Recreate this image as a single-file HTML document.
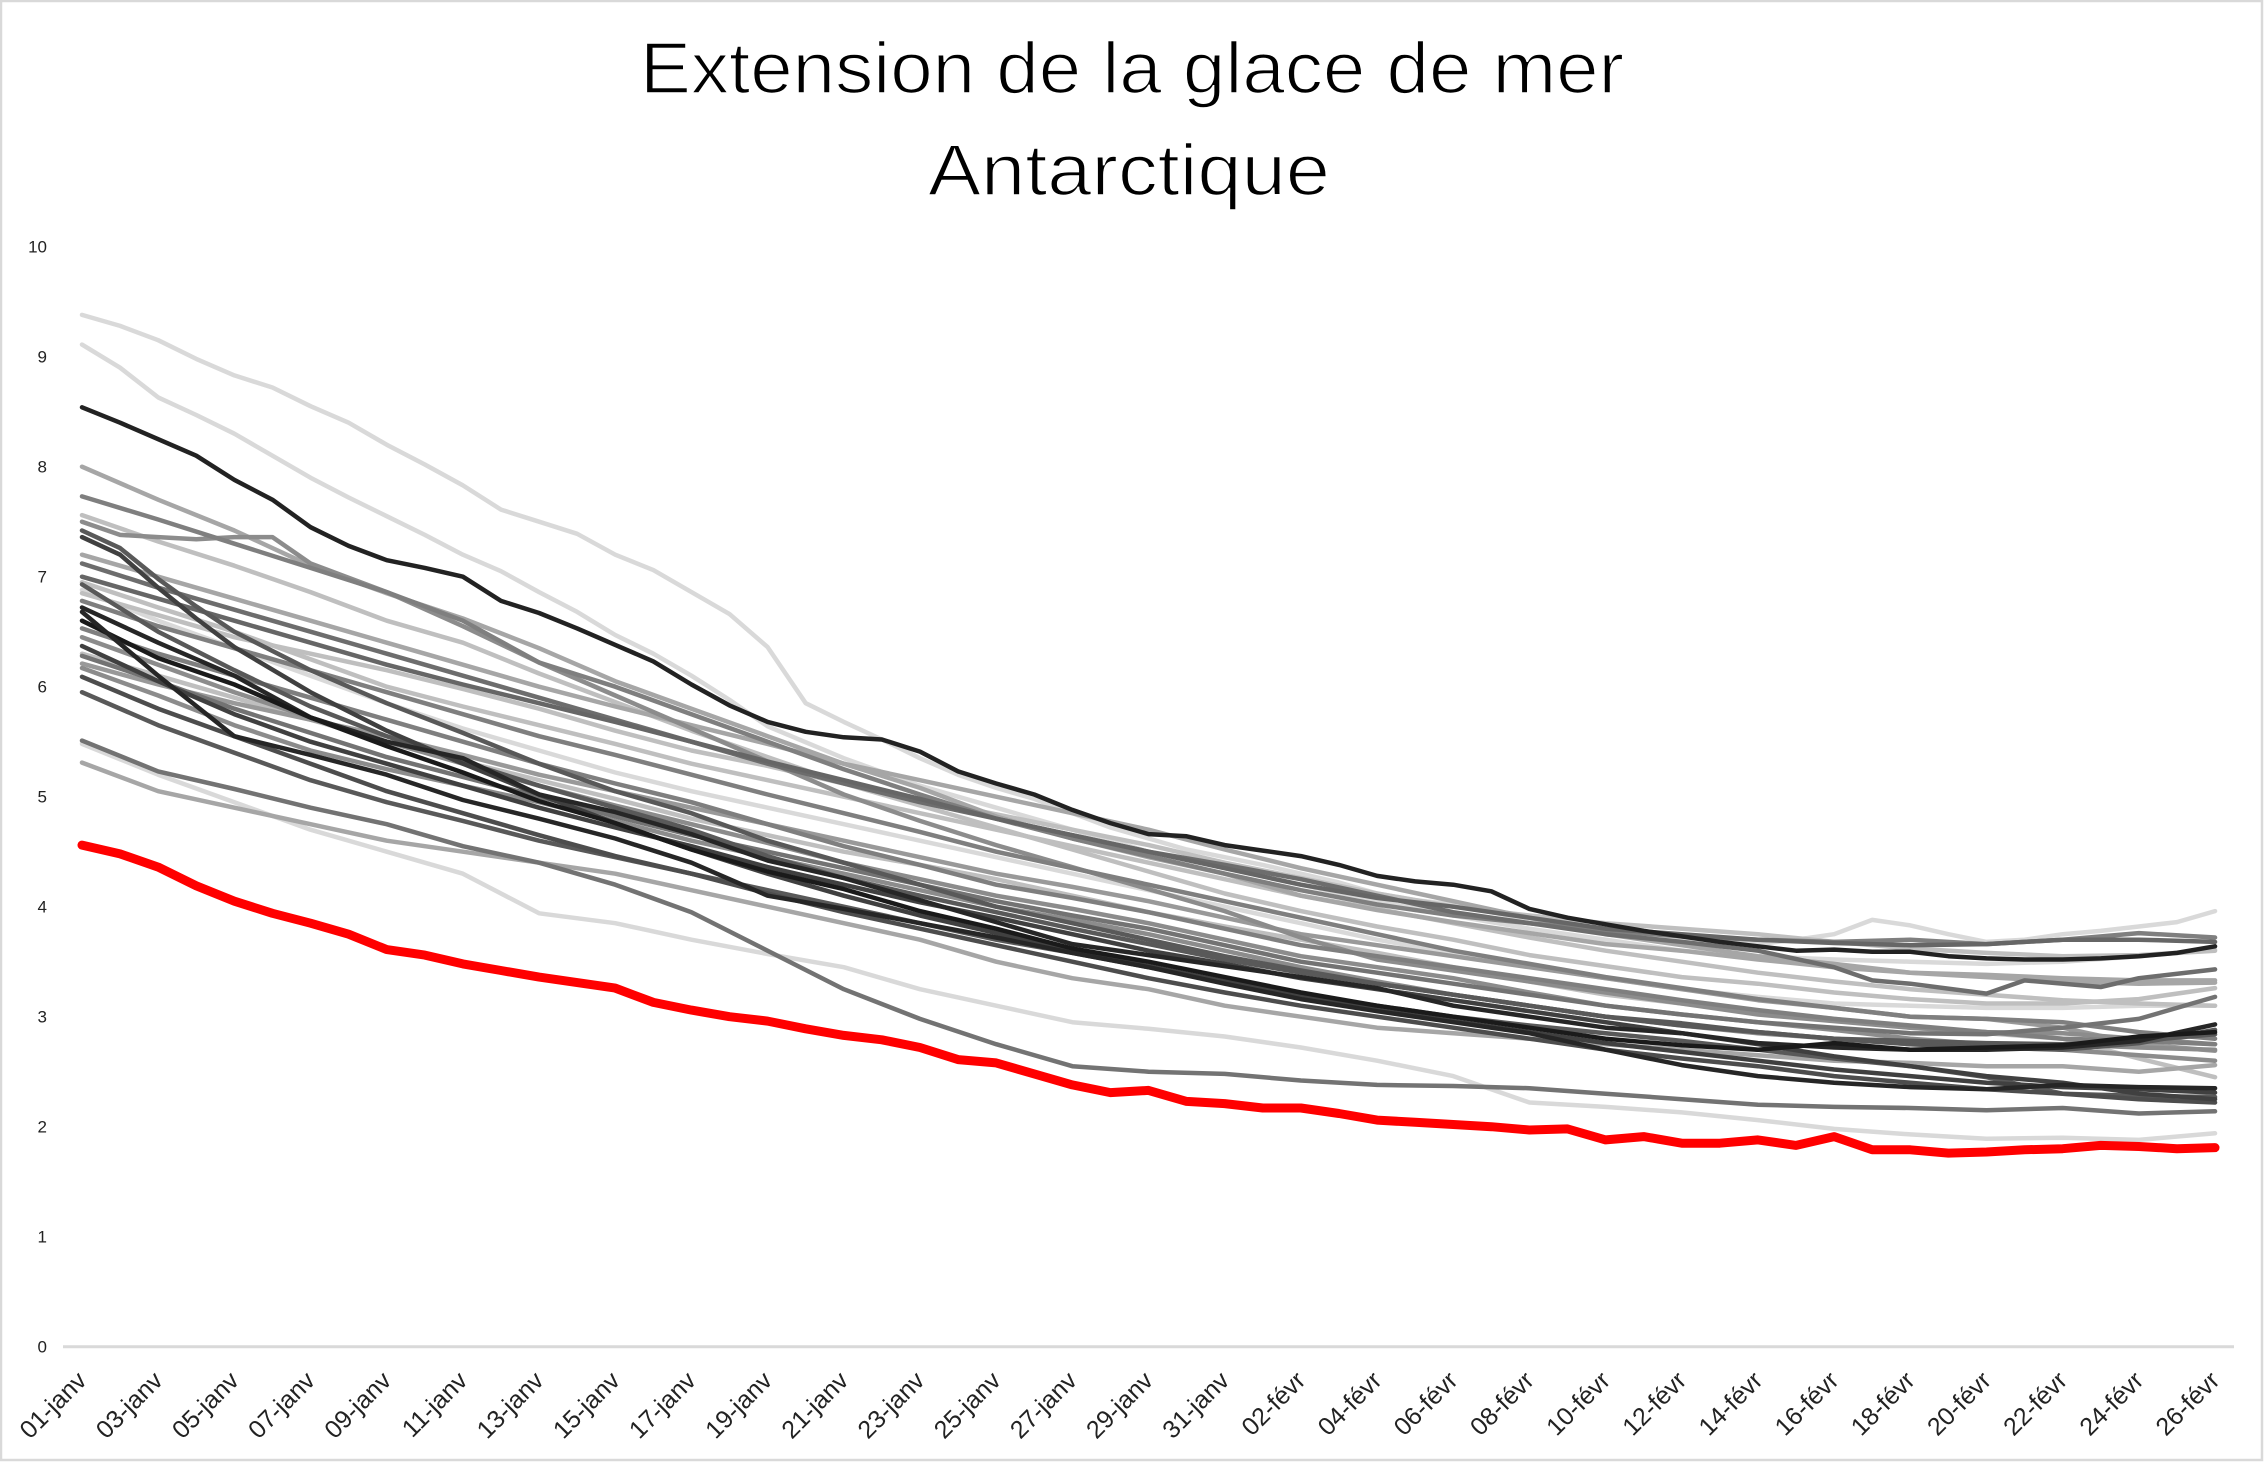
<!DOCTYPE html>
<html>
<head>
<meta charset="utf-8">
<style>
  html,body{margin:0;padding:0;background:#fff;}
  svg{display:block;}
  text{font-family:"Liberation Sans", Arial, sans-serif;}
</style>
</head>
<body>
<svg width="2264" height="1462" viewBox="0 0 2264 1462" xmlns="http://www.w3.org/2000/svg">
  <rect x="0" y="0" width="2264" height="1462" fill="#ffffff"/>
  <rect x="1" y="1" width="2261" height="1459" fill="none" stroke="#d9d9d9" stroke-width="2.5"/>

  <!-- Title -->
  <g stroke="#ffffff" stroke-width="1.6">
  <text x="1132" y="93" font-size="72" text-anchor="middle" fill="#000" textLength="984" lengthAdjust="spacingAndGlyphs">Extension de la glace de mer</text>
  <text x="1129" y="195" font-size="72" text-anchor="middle" fill="#000" textLength="402" lengthAdjust="spacingAndGlyphs">Antarctique</text>
  </g>

  <!-- Y axis labels -->
  <g font-size="17" fill="#222" text-anchor="end">
    <text x="47" y="252.7">10</text>
    <text x="47" y="362.7">9</text>
    <text x="47" y="472.7">8</text>
    <text x="47" y="582.7">7</text>
    <text x="47" y="692.7">6</text>
    <text x="47" y="802.7">5</text>
    <text x="47" y="912.7">4</text>
    <text x="47" y="1022.7">3</text>
    <text x="47" y="1132.7">2</text>
    <text x="47" y="1242.7">1</text>
    <text x="47" y="1352.7">0</text>
  </g>

  <!-- X axis line -->
  <line x1="63" y1="1346.7" x2="2234" y2="1346.7" stroke="#d9d9d9" stroke-width="3"/>

  <!-- X labels -->
  <g font-size="25" fill="#222" text-anchor="end">
    <text x="88" y="1382" transform="rotate(-45 88 1382)">01-janv</text>
    <text x="164.2" y="1382" transform="rotate(-45 164.2 1382)">03-janv</text>
    <text x="240.4" y="1382" transform="rotate(-45 240.4 1382)">05-janv</text>
    <text x="316.5" y="1382" transform="rotate(-45 316.5 1382)">07-janv</text>
    <text x="392.7" y="1382" transform="rotate(-45 392.7 1382)">09-janv</text>
    <text x="468.9" y="1382" transform="rotate(-45 468.9 1382)">11-janv</text>
    <text x="545.1" y="1382" transform="rotate(-45 545.1 1382)">13-janv</text>
    <text x="621.3" y="1382" transform="rotate(-45 621.3 1382)">15-janv</text>
    <text x="697.4" y="1382" transform="rotate(-45 697.4 1382)">17-janv</text>
    <text x="773.6" y="1382" transform="rotate(-45 773.6 1382)">19-janv</text>
    <text x="849.8" y="1382" transform="rotate(-45 849.8 1382)">21-janv</text>
    <text x="926" y="1382" transform="rotate(-45 926 1382)">23-janv</text>
    <text x="1002.2" y="1382" transform="rotate(-45 1002.2 1382)">25-janv</text>
    <text x="1078.3" y="1382" transform="rotate(-45 1078.3 1382)">27-janv</text>
    <text x="1154.5" y="1382" transform="rotate(-45 1154.5 1382)">29-janv</text>
    <text x="1230.7" y="1382" transform="rotate(-45 1230.7 1382)">31-janv</text>
    <text x="1306.9" y="1382" transform="rotate(-45 1306.9 1382)">02-févr</text>
    <text x="1383.1" y="1382" transform="rotate(-45 1383.1 1382)">04-févr</text>
    <text x="1459.2" y="1382" transform="rotate(-45 1459.2 1382)">06-févr</text>
    <text x="1535.4" y="1382" transform="rotate(-45 1535.4 1382)">08-févr</text>
    <text x="1611.6" y="1382" transform="rotate(-45 1611.6 1382)">10-févr</text>
    <text x="1687.8" y="1382" transform="rotate(-45 1687.8 1382)">12-févr</text>
    <text x="1764" y="1382" transform="rotate(-45 1764 1382)">14-févr</text>
    <text x="1840.1" y="1382" transform="rotate(-45 1840.1 1382)">16-févr</text>
    <text x="1916.3" y="1382" transform="rotate(-45 1916.3 1382)">18-févr</text>
    <text x="1992.5" y="1382" transform="rotate(-45 1992.5 1382)">20-févr</text>
    <text x="2068.7" y="1382" transform="rotate(-45 2068.7 1382)">22-févr</text>
    <text x="2144.9" y="1382" transform="rotate(-45 2144.9 1382)">24-févr</text>
    <text x="2221" y="1382" transform="rotate(-45 2221 1382)">26-févr</text>
  </g>

  <!-- Data series -->
  <g transform="translate(82 1346.7) scale(38.09 -110)" fill="none" stroke-linejoin="round" stroke-linecap="round">
    <!-- light lines -->
    <polyline vector-effect="non-scaling-stroke" stroke="#d9d9d9" stroke-width="4.5" points="0,9.38 1,9.28 2,9.15 3,8.98 4,8.83 5,8.72 6,8.55 7,8.4 8,8.2 9,8.02 10,7.83 11,7.61 12,7.5 13,7.39 14,7.2 15,7.06 16,6.86 17,6.66 18,6.36 19,5.85 20,5.68 21,5.52 22,5.35 23,5.2 24,5.08 25,4.98 26,4.85 27,4.72 28,4.62 29,4.52 30,4.45 31,4.38 32,4.3 33,4.22 34,4.12 35,4.06 36,4.02 37,3.95 38,3.88 39,3.82 40,3.76 41,3.72 42,3.7 43,3.68 44,3.66 45,3.7 46,3.75 47,3.88 48,3.83 49,3.75 50,3.68 51,3.7 52,3.75 53,3.78 54,3.82 55,3.86 56,3.96"/>
    <polyline vector-effect="non-scaling-stroke" stroke="#d9d9d9" stroke-width="4.5" points="0,9.11 1,8.9 2,8.63 3,8.47 4,8.3 5,8.1 6,7.9 7,7.72 8,7.55 9,7.38 10,7.2 11,7.05 12,6.86 13,6.68 14,6.47 15,6.3 16,6.1 17,5.88 18,5.64 20,5.35 22,5.1 24,4.9 26,4.7 28,4.5 30,4.35 32,4.2 34,4.05 36,3.92 38,3.8 40,3.7 42,3.6 44,3.55 46,3.52 48,3.5 50,3.48 52,3.5 54,3.55 56,3.61"/>
    <polyline vector-effect="non-scaling-stroke" stroke="#d9d9d9" stroke-width="4.5" points="0,6.88 2,6.6 4,6.35 6,6.1 8,5.85 10,5.62 12,5.42 14,5.22 16,5.05 18,4.9 20,4.75 22,4.6 24,4.45 26,4.3 28,4.15 30,4.0 32,3.85 34,3.7 36,3.58 38,3.46 40,3.35 42,3.25 44,3.18 46,3.12 48,3.1 50,3.08 52,3.08 54,3.1 56,3.1"/>
    <polyline vector-effect="non-scaling-stroke" stroke="#d9d9d9" stroke-width="4.5" points="0,5.48 2,5.2 4,4.95 6,4.7 8,4.5 10,4.3 12,3.94 14,3.85 16,3.7 18,3.57 20,3.45 22,3.25 24,3.1 26,2.95 28,2.89 30,2.82 32,2.72 34,2.6 36,2.46 38,2.22 40,2.18 42,2.13 44,2.06 46,1.98 48,1.93 50,1.89 52,1.9 54,1.88 56,1.94"/>
    <!-- light-mid lines -->
    <polyline vector-effect="non-scaling-stroke" stroke="#bfbfbf" stroke-width="4.5" points="0,7.56 2,7.32 4,7.1 6,6.86 8,6.6 10,6.4 12,6.12 14,5.86 16,5.6 18,5.36 20,5.12 22,4.92 24,4.72 26,4.52 28,4.32 30,4.12 32,3.96 34,3.82 36,3.7 38,3.56 40,3.46 42,3.36 44,3.3 46,3.22 48,3.16 50,3.12 52,3.12 54,3.16 56,3.26"/>
    <polyline vector-effect="non-scaling-stroke" stroke="#bfbfbf" stroke-width="4.5" points="0,6.85 2,6.65 4,6.45 6,6.3 8,6.15 10,5.98 12,5.8 14,5.6 16,5.42 18,5.28 20,5.12 22,4.98 24,4.84 26,4.7 28,4.56 30,4.4 32,4.26 34,4.12 36,4.0 38,3.92 40,3.85 42,3.8 44,3.75 46,3.68 48,3.62 50,3.58 52,3.55 54,3.56 56,3.6"/>
    <polyline vector-effect="non-scaling-stroke" stroke="#bfbfbf" stroke-width="4.5" points="0,6.95 2,6.72 4,6.5 6,6.25 8,6.0 10,5.82 12,5.65 14,5.48 16,5.3 18,5.15 20,5.0 22,4.85 24,4.7 26,4.55 28,4.4 30,4.25 32,4.1 34,3.98 36,3.85 38,3.72 40,3.6 42,3.5 44,3.4 46,3.32 48,3.25 50,3.2 52,3.15 54,3.12 56,3.1"/>
    <polyline vector-effect="non-scaling-stroke" stroke="#bfbfbf" stroke-width="4.5" points="0,6.3 2,6.1 4,5.9 6,5.7 8,5.5 10,5.32 12,5.15 14,4.98 16,4.8 18,4.65 20,4.5 22,4.38 24,4.25 26,4.1 28,3.95 30,3.82 32,3.7 34,3.58 36,3.45 38,3.32 40,3.2 42,3.12 44,3.05 46,2.98 48,2.9 50,2.85 52,2.8 54,2.62 56,2.45"/>
    <polyline vector-effect="non-scaling-stroke" stroke="#a6a6a6" stroke-width="4.5" points="0,8.0 2,7.7 4,7.42 6,7.1 8,6.85 10,6.62 12,6.35 14,6.05 16,5.8 18,5.55 20,5.3 22,5.08 24,4.82 26,4.62 28,4.45 30,4.3 32,4.1 34,3.97 36,3.86 38,3.76 40,3.66 42,3.6 44,3.52 46,3.45 48,3.4 50,3.36 52,3.32 54,3.3 56,3.31"/>
    <polyline vector-effect="non-scaling-stroke" stroke="#a6a6a6" stroke-width="4.5" points="0,7.2 2,7.0 4,6.8 6,6.6 8,6.4 10,6.2 12,6.0 14,5.82 16,5.65 18,5.48 20,5.3 22,5.15 24,5.0 26,4.85 28,4.7 30,4.52 32,4.35 34,4.2 36,4.05 38,3.9 40,3.75 42,3.65 44,3.55 46,3.48 48,3.4 50,3.38 52,3.35 54,3.33 56,3.33"/>
    <polyline vector-effect="non-scaling-stroke" stroke="#a6a6a6" stroke-width="4.5" points="0,5.31 2,5.05 4,4.9 6,4.75 8,4.6 10,4.5 12,4.4 14,4.3 16,4.15 18,4.0 20,3.85 22,3.7 24,3.5 26,3.35 28,3.25 30,3.1 32,3.0 34,2.9 36,2.85 38,2.8 40,2.75 42,2.7 44,2.65 46,2.6 48,2.58 50,2.55 52,2.55 54,2.5 56,2.56"/>
    <polyline vector-effect="non-scaling-stroke" stroke="#999999" stroke-width="4.5" points="0,6.21 2,6.02 4,5.85 6,5.7 8,5.55 10,5.38 12,5.2 14,5.05 16,4.9 18,4.75 20,4.6 22,4.45 24,4.3 26,4.18 28,4.05 30,3.9 32,3.75 34,3.65 36,3.55 38,3.45 40,3.35 42,3.25 44,3.15 46,3.08 48,3.0 50,2.98 52,2.9 54,2.75 56,2.69"/>
    <!-- mid lines -->
    <polyline vector-effect="non-scaling-stroke" stroke="#8c8c8c" stroke-width="4.5" points="0,7.5 1,7.38 2,7.36 3,7.34 4,7.36 5,7.36 6,7.12 8,6.86 10,6.55 12,6.22 14,5.92 16,5.62 18,5.32 20,5.02 22,4.78 24,4.56 26,4.36 28,4.16 30,3.96 32,3.72 34,3.52 36,3.42 38,3.32 40,3.22 42,3.12 44,3.02 46,2.96 48,2.9 50,2.86 52,2.85 54,2.8 56,2.75"/>
    <polyline vector-effect="non-scaling-stroke" stroke="#8c8c8c" stroke-width="4.5" points="0,6.45 2,6.2 4,5.95 6,5.72 8,5.5 10,5.3 12,5.1 14,4.92 16,4.75 18,4.58 20,4.4 22,4.25 24,4.1 26,3.98 28,3.85 30,3.7 32,3.55 34,3.45 36,3.35 38,3.22 40,3.1 42,3.02 44,2.95 46,2.88 48,2.8 50,2.75 52,2.7 54,2.65 56,2.6"/>
    <polyline vector-effect="non-scaling-stroke" stroke="#8c8c8c" stroke-width="4.5" points="0,6.17 2,5.92 4,5.65 6,5.42 8,5.25 10,5.1 12,4.95 14,4.78 16,4.6 18,4.45 20,4.3 22,4.15 24,4.0 26,3.88 28,3.75 30,3.6 32,3.45 34,3.32 36,3.2 38,3.1 40,3.0 42,2.92 44,2.85 46,2.8 48,2.75 50,2.74 52,2.75 54,2.72 56,2.7"/>
    <polyline vector-effect="non-scaling-stroke" stroke="#7f7f7f" stroke-width="4.5" points="0,7.73 2,7.52 4,7.3 6,7.08 8,6.86 10,6.6 12,6.22 14,6.0 16,5.75 18,5.5 20,5.25 22,5.02 24,4.8 26,4.62 28,4.46 30,4.3 32,4.15 34,4.02 36,3.92 38,3.85 40,3.78 42,3.73 44,3.7 46,3.68 48,3.7 50,3.66 52,3.7 54,3.76 56,3.72"/>
    <polyline vector-effect="non-scaling-stroke" stroke="#7f7f7f" stroke-width="4.5" points="0,6.78 2,6.55 4,6.35 6,6.15 8,5.95 10,5.75 12,5.55 14,5.38 16,5.2 18,5.02 20,4.85 22,4.68 24,4.5 26,4.35 28,4.2 30,4.05 32,3.9 34,3.75 36,3.6 38,3.48 40,3.36 42,3.26 44,3.16 46,3.08 48,3.0 50,2.98 52,2.95 54,2.86 56,2.8"/>
    <polyline vector-effect="non-scaling-stroke" stroke="#7f7f7f" stroke-width="4.5" points="0,6.53 2,6.3 4,6.1 6,5.9 8,5.7 10,5.5 12,5.3 14,5.12 16,4.95 18,4.75 20,4.55 22,4.38 24,4.2 26,4.08 28,3.95 30,3.8 32,3.65 34,3.55 36,3.45 38,3.35 40,3.25 42,3.15 44,3.06 46,2.98 48,2.92 50,2.86 52,2.8 54,2.78 56,2.75"/>
    <polyline vector-effect="non-scaling-stroke" stroke="#737373" stroke-width="4.5" points="0,6.28 2,6.05 4,5.8 6,5.58 8,5.36 10,5.18 12,5.0 14,4.82 16,4.65 18,4.5 20,4.35 22,4.2 24,4.05 26,3.92 28,3.8 30,3.65 32,3.5 34,3.4 36,3.3 38,3.2 40,3.1 42,3.02 44,2.95 46,2.9 48,2.85 50,2.84 52,2.9 54,2.98 56,3.18"/>
    <polyline vector-effect="non-scaling-stroke" stroke="#737373" stroke-width="4.5" points="0,5.51 2,5.23 4,5.07 6,4.9 8,4.75 10,4.55 12,4.4 14,4.2 16,3.95 18,3.6 20,3.25 22,2.98 24,2.75 26,2.55 28,2.5 30,2.48 32,2.42 34,2.38 36,2.37 38,2.35 40,2.3 42,2.25 44,2.2 46,2.18 48,2.17 50,2.15 52,2.17 54,2.12 56,2.14"/>
    <polyline vector-effect="non-scaling-stroke" stroke="#6d6d6d" stroke-width="4.5" points="0,7.12 2,6.9 4,6.7 6,6.5 8,6.3 10,6.1 12,5.9 14,5.7 16,5.5 18,5.3 20,5.12 22,4.95 24,4.8 26,4.65 28,4.5 30,4.38 32,4.25 34,4.1 36,3.95 38,3.85 40,3.75 42,3.68 44,3.6 46,3.45 47,3.33 48,3.3 50,3.21 51,3.33 53,3.27 54,3.35 56,3.43"/>
    <polyline vector-effect="non-scaling-stroke" stroke="#666666" stroke-width="4.5" points="0,7.0 2,6.8 4,6.6 6,6.4 8,6.2 10,6.02 12,5.85 14,5.68 16,5.5 18,5.32 20,5.15 22,4.98 24,4.8 26,4.65 28,4.5 30,4.35 32,4.2 34,4.08 36,4.0 38,3.9 40,3.8 42,3.75 44,3.7 46,3.67 48,3.65 50,3.66 52,3.7 54,3.7 56,3.68"/>
    <!-- dark lines -->
    <polyline vector-effect="non-scaling-stroke" stroke="#595959" stroke-width="4.5" points="0,7.42 1,7.26 2,6.98 3,6.73 4,6.5 6,6.15 8,5.85 10,5.58 12,5.3 14,5.05 16,4.85 18,4.6 20,4.4 22,4.2 24,4.0 26,3.85 28,3.7 30,3.55 32,3.42 34,3.3 36,3.2 38,3.1 40,3.0 42,2.94 44,2.86 46,2.8 48,2.75 50,2.72 52,2.7 54,2.76 56,2.88"/>
    <polyline vector-effect="non-scaling-stroke" stroke="#595959" stroke-width="4.5" points="0,6.93 2,6.5 4,6.15 6,5.82 8,5.55 10,5.32 12,5.1 14,4.9 16,4.7 18,4.46 20,4.26 22,4.1 24,3.95 26,3.8 28,3.66 30,3.52 32,3.4 34,3.3 36,3.2 38,3.1 40,3.0 42,2.92 44,2.86 46,2.8 48,2.78 50,2.76 52,2.75 54,2.78 56,2.84"/>
    <polyline vector-effect="non-scaling-stroke" stroke="#595959" stroke-width="4.5" points="0,5.95 2,5.65 4,5.4 6,5.15 8,4.95 10,4.78 12,4.6 14,4.45 16,4.3 18,4.15 20,4.0 22,3.85 24,3.7 26,3.58 28,3.45 30,3.32 32,3.2 34,3.1 36,3.0 38,2.92 40,2.85 42,2.78 44,2.7 46,2.62 48,2.55 50,2.45 52,2.3 54,2.28 56,2.27"/>
    <polyline vector-effect="non-scaling-stroke" stroke="#4d4d4d" stroke-width="4.5" points="0,6.09 2,5.8 4,5.55 6,5.3 8,5.05 10,4.85 12,4.65 14,4.46 16,4.3 18,4.12 20,3.95 22,3.8 24,3.65 26,3.5 28,3.35 30,3.22 32,3.1 34,3.0 36,2.9 38,2.8 40,2.7 42,2.62 44,2.55 46,2.46 48,2.4 50,2.34 52,2.3 54,2.25 56,2.22"/>
    <polyline vector-effect="non-scaling-stroke" stroke="#404040" stroke-width="4.5" points="0,7.36 1,7.2 2,6.9 3,6.62 4,6.36 6,5.95 8,5.6 10,5.3 12,5.02 14,4.76 16,4.52 18,4.3 20,4.1 22,3.92 24,3.76 26,3.6 28,3.46 30,3.32 32,3.2 34,3.06 36,2.96 38,2.86 40,2.76 42,2.68 44,2.6 46,2.52 48,2.46 50,2.4 52,2.36 54,2.34 56,2.31"/>
    <polyline vector-effect="non-scaling-stroke" stroke="#404040" stroke-width="4.5" points="0,6.37 2,6.05 4,5.75 6,5.5 8,5.3 10,5.1 12,4.9 14,4.72 16,4.55 18,4.36 20,4.2 22,4.04 24,3.9 26,3.75 28,3.6 30,3.48 32,3.35 34,3.25 36,3.15 38,3.05 40,2.95 42,2.85 44,2.75 46,2.64 48,2.55 50,2.46 52,2.4 54,2.3 56,2.25"/>
    <!-- black lines -->
    <polyline vector-effect="non-scaling-stroke" stroke="#262626" stroke-width="4.5" points="0,6.72 2,6.4 4,6.1 6,5.72 8,5.5 10,5.35 12,5.02 14,4.86 16,4.66 18,4.42 20,4.26 22,4.06 24,3.86 26,3.66 28,3.56 30,3.46 32,3.36 34,3.26 36,3.1 38,3.0 40,2.9 42,2.85 44,2.76 46,2.72 48,2.7 50,2.7 52,2.72 54,2.78 56,2.93"/>
    <polyline vector-effect="non-scaling-stroke" stroke="#1a1a1a" stroke-width="4.5" points="0,6.6 2,6.26 4,6.02 6,5.72 8,5.46 10,5.22 12,4.96 14,4.76 16,4.52 18,4.32 20,4.16 22,3.96 24,3.8 26,3.62 28,3.5 30,3.36 32,3.22 34,3.1 36,3.0 38,2.9 40,2.8 42,2.74 44,2.7 46,2.76 48,2.7 50,2.72 52,2.74 54,2.82 56,2.86"/>
    <polyline vector-effect="non-scaling-stroke" stroke="#262626" stroke-width="4.5" points="0,6.68 2,6.1 4,5.55 6,5.38 8,5.2 10,4.97 12,4.8 14,4.62 16,4.4 18,4.1 20,3.98 22,3.85 24,3.72 26,3.58 28,3.45 30,3.3 32,3.16 34,3.05 36,2.95 38,2.85 40,2.7 42,2.56 44,2.46 46,2.4 48,2.36 50,2.34 52,2.38 54,2.36 56,2.35"/>
    <polyline vector-effect="non-scaling-stroke" stroke="#222222" stroke-width="4.5" points="0,8.54 1,8.4 2,8.25 3,8.1 4,7.88 5,7.7 6,7.45 7,7.28 8,7.15 9,7.08 10,7.0 11,6.78 12,6.67 13,6.53 14,6.38 15,6.23 16,6.02 17,5.83 18,5.68 19,5.59 20,5.54 21,5.52 22,5.41 23,5.23 24,5.12 25,5.02 26,4.88 27,4.76 28,4.66 29,4.64 30,4.56 31,4.51 32,4.46 33,4.38 34,4.28 35,4.23 36,4.2 37,4.14 38,3.98 39,3.9 40,3.84 41,3.78 42,3.73 43,3.68 44,3.64 45,3.6 46,3.61 47,3.59 48,3.59 49,3.55 50,3.53 51,3.52 52,3.52 53,3.53 54,3.55 55,3.58 56,3.64"/>
    <!-- red -->
    <polyline vector-effect="non-scaling-stroke" stroke="#ff0000" stroke-width="9" points="0,4.56 1,4.48 2,4.36 3,4.19 4,4.05 5,3.94 6,3.85 7,3.75 8,3.61 9,3.56 10,3.48 11,3.42 12,3.36 13,3.31 14,3.26 15,3.13 16,3.06 17,3.0 18,2.96 19,2.89 20,2.83 21,2.79 22,2.72 23,2.61 24,2.58 25,2.48 26,2.38 27,2.31 28,2.33 29,2.23 30,2.21 31,2.17 32,2.17 33,2.12 34,2.06 35,2.04 36,2.02 37,2.0 38,1.97 39,1.98 40,1.88 41,1.91 42,1.85 43,1.85 44,1.88 45,1.83 46,1.91 47,1.79 48,1.79 49,1.76 50,1.77 51,1.79 52,1.8 53,1.83 54,1.82 55,1.8 56,1.81"/>
  </g>
</svg>
</body>
</html>
